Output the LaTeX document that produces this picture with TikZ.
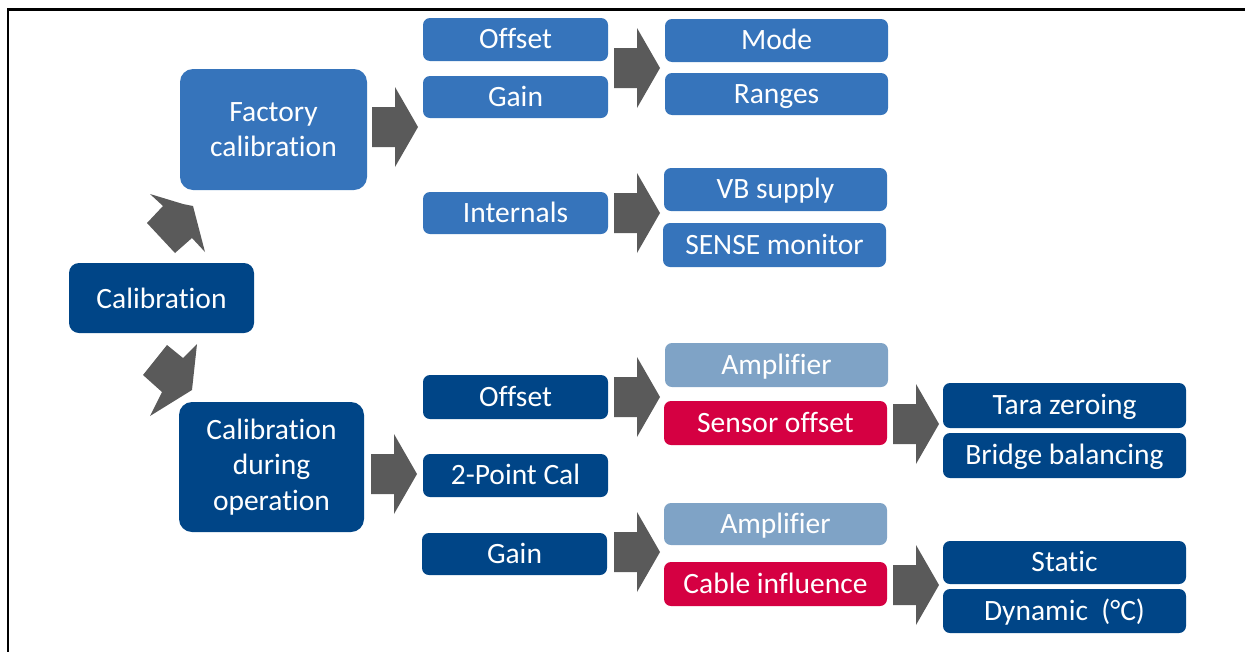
\documentclass[tikz,border=0pt]{standalone}
\usepackage{fontspec}
\setmainfont{Carlito}[Ligatures={NoCommon}]
\definecolor{medblue}{HTML}{3674BB}
\definecolor{darkblue}{HTML}{004587}
\definecolor{lightblue}{HTML}{7FA3C6}
\definecolor{crimson}{HTML}{D50042}
\definecolor{arrowgray}{HTML}{5A5A5A}
\begin{document}
\begin{tikzpicture}[x=1pt,y=-1pt,
  box/.style={text=white, inner sep=0pt, align=center, rounded corners=7pt,
    font=\fontsize{29.5}{35}\selectfont, text height=23pt, text depth=4.5pt},
  bigbox/.style={text=white, inner sep=0pt, align=center, rounded corners=13pt,
    font=\fontsize{29.5}{35.5}\selectfont},
  colA/.style={minimum width=185pt},
  colB/.style={minimum width=223pt},
  colC/.style={minimum width=243pt},
  med/.style={box, fill=medblue},
  dark/.style={box, fill=darkblue},
  light/.style={box, fill=lightblue},
  redbox/.style={box, fill=crimson},
  barrow/.pic={\fill[arrowgray] (0,-20) -- (23,-20) -- (23,-40) -- (46,0) -- (23,40) -- (23,20) -- (0,20) -- cycle;}
]
\useasboundingbox (0,0) rectangle (1245,651);
% frame
\draw[line width=2.5pt] (1260,9.3) -- (8,9.3) -- (8,670);

% main nodes
\node[bigbox, fill=darkblue, rounded corners=10pt, minimum width=185pt, minimum height=70pt,
  text height=23pt, text depth=3pt] (cal) at (161.5,298) {Calibration};
\node[bigbox, fill=medblue, minimum width=187pt, minimum height=121pt] (fac) at (273.5,129.5) {Factory\\calibration};
\node[bigbox, fill=darkblue, minimum width=185pt, minimum height=130pt] (op) at (271.5,467) {Calibration\\during\\operation};

% factory branch
\node[med, colA, minimum height=43pt] (off1) at (515.5,39.5) {Offset};
\node[med, colA, minimum height=42pt] (gain1) at (515.5,97) {Gain};
\node[med, colA, minimum height=42pt] (int) at (515.5,213) {Internals};
\node[med, colB, minimum height=43pt] (mode) at (776.5,40.5) {Mode};
\node[med, colB, minimum height=42pt] (ranges) at (776.5,94) {Ranges};
\node[med, colB, minimum height=43pt] (vb) at (775.5,189.5) {VB supply};
\node[med, colB, minimum height=44pt] (sense) at (774.5,245) {SENSE monitor};

% operation branch
\node[dark, colA, minimum height=44pt] (off2) at (515.5,397) {Offset};
\node[dark, colA, minimum height=43pt] (twopt) at (515.5,475.5) {2-Point Cal};
\node[dark, colA, minimum height=42pt] (gain2) at (514.5,554) {Gain};
\node[light, colB, minimum height=44pt] (amp1) at (776.5,365) {Amplifier};
\node[redbox, colB, minimum height=44pt] (sens) at (775.5,423) {Sensor offset};
\node[light, colB, minimum height=42pt] (amp2) at (775.5,524) {Amplifier};
\node[redbox, colB, minimum height=44pt] (cable) at (775.5,584) {Cable influence};
\node[dark, colC, minimum height=45pt] (tara) at (1064.5,405.5) {Tara zeroing};
\node[dark, colC, minimum height=45pt] (bridge) at (1064.5,455.5) {Bridge balancing};
\node[dark, colC, minimum height=43pt] (static) at (1064.5,562.5) {Static};
\node[dark, colC, minimum height=44pt] (dyn) at (1064.5,611) {Dynamic~~(°C)};

% block arrows
\pic at (372,127) {barrow};
\pic at (614,68) {barrow};
\pic at (614,213) {barrow};
\pic at (371,474) {barrow};
\pic at (614,397) {barrow};
\pic at (614,552) {barrow};
\pic at (893,424) {barrow};
\pic at (893,585) {barrow};

% diagonal arrows
\fill[arrowgray] (150,194) -- (163,206) -- (147,223) -- (175,253) -- (192,238) -- (205,252)
  -- (193,206) -- (183,204) -- cycle;
\fill[arrowgray] (167,345) -- (183,358) -- (197,344) -- (192,390) -- (150,416) -- (162,392)
  -- (143,375) -- cycle;
\end{tikzpicture}
\end{document}
